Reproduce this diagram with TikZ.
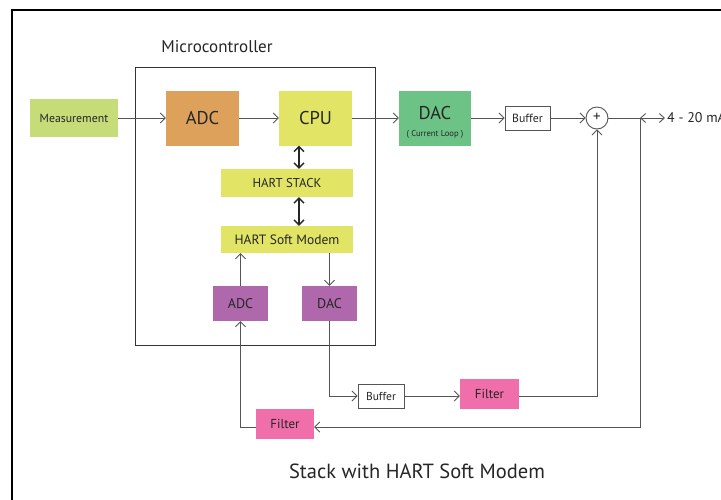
\documentclass[tikz,border=0pt]{standalone}
\usepackage{fontspec}
\setmainfont{PT Sans}
\usetikzlibrary{arrows.meta}
\definecolor{cmeas}{HTML}{C5DC78}
\definecolor{cadc}{HTML}{DEA15C}
\definecolor{ccpu}{HTML}{E2E465}
\definecolor{cdac}{HTML}{6CC385}
\definecolor{cpur}{HTML}{B068AD}
\definecolor{cpink}{HTML}{F06EAA}
\definecolor{ctext}{HTML}{262626}
\definecolor{cline}{HTML}{555555}
\newcommand{\fs}[1]{\fontsize{#1}{#1}\selectfont}
\tikzset{
  blk/.style={inner sep=0pt, text=ctext, align=center},
  wbox/.style={blk, draw=cline, line width=0.9pt, fill=white},
  conn/.style={draw=cline, line width=0.9pt, -{Straight Barb[length=5pt,width=10pt]}},
  plain/.style={draw=cline, line width=0.9pt},
  dbl/.style={draw=black!85, line width=1.3pt, {Straight Barb[length=5pt,width=10pt]}-{Straight Barb[length=5pt,width=10pt]}},
  bib/.style={draw=cline, line width=0.9pt, {Straight Barb[length=5pt,width=9pt]}-{Straight Barb[length=5pt,width=9pt]}},
}
\begin{document}
\begin{tikzpicture}[x=1pt,y=-1pt]
\clip (0,0) rectangle (721,499);
\fill[white] (0,0) rectangle (721,499);
\draw[black, line width=2pt] (12,10) rectangle (760,540);
% microcontroller box
\draw[draw=black!80, line width=0.9pt] (135,67) rectangle (375,345);
\node[blk, font=\fs{17}] (mclabel) at (217,47) {Microcontroller};
% blocks
\node[blk, fill=cmeas, minimum width=88pt, minimum height=38pt, font=\fs{11.8}] (meas) at (74,118) {Measurement};
\node[blk, fill=cadc, minimum width=73pt, minimum height=55pt, font=\fs{18.5}] (adc) at (202.5,118) {ADC};
\node[blk, fill=ccpu, minimum width=73pt, minimum height=55pt, font=\fs{18.5}] (cpu) at (315.5,118) {CPU};
\node[blk, fill=ccpu, minimum width=132pt, minimum height=28pt, font=\fs{12.8}] (stack) at (287,183) {HART STACK};
\node[blk, fill=ccpu, minimum width=132pt, minimum height=27pt, font=\fs{13.5}] (modem) at (287,239.5) {HART Soft Modem};
\node[blk, fill=cpur, minimum width=55pt, minimum height=35pt, font=\fs{14}] (adc2) at (240.5,303.5) {ADC};
\node[blk, fill=cpur, minimum width=55pt, minimum height=35pt, font=\fs{14}] (dac2) at (329.5,303.5) {DAC};
\node[blk, fill=cdac, minimum width=72pt, minimum height=55pt] (dac) at (435,118) {};
\node[blk, font=\fs{18.5}] (dact) at (435,113) {DAC};
\node[blk, font=\fs{8.6}] (dacs) at (435,134) {( Current Loop )};
\node[wbox, minimum width=45pt, minimum height=24pt, font=\fs{11.8}] (buf) at (527.5,118) {Buffer};
\node[draw=cline, line width=0.9pt, circle, minimum size=22pt, inner sep=0pt] (sum) at (597,118) {};
\node[blk, font=\fs{15}] (plus) at (597,117.5) {+};
\coordinate (jn) at (640,118);
\coordinate (out) at (665,118);
\node[blk, anchor=west, font=\fs{14}] (ma) at (667,117.5) {4 - 20 mA};
\node[wbox, minimum width=46pt, minimum height=24pt, font=\fs{11.5}] (buf2) at (381,396) {Buffer};
\node[blk, fill=cpink, minimum width=59pt, minimum height=30pt, font=\fs{13}] (filt2) at (489.5,394) {Filter};
\node[blk, fill=cpink, minimum width=58pt, minimum height=30pt, font=\fs{13}] (filt1) at (285,424) {Filter};
\node[blk, font=\fs{20.5}] (title) at (417,471) {Stack with HART Soft Modem};
\coordinate (ax) at (299,0);
% connectors
\draw[conn] (meas) -- (adc);
\draw[conn] (adc) -- (cpu);
\draw[conn] (cpu) -- (dac);
\draw[conn] (dac) -- (buf);
\draw[conn] (buf) -- (sum);
\draw[plain] (sum) -- (jn);
\draw[bib] (jn) -- (out);
\draw[dbl] (cpu.south -| ax) -- (stack.north -| ax);
\draw[dbl] (stack.south -| ax) -- (modem.north -| ax);
\draw[conn] (modem.south -| dac2) -- (dac2.north);
\draw[conn] (adc2.north) -- (modem.south -| adc2);
\draw[conn] (dac2.south) |- (buf2.west);
\draw[conn] (buf2.east) -- (filt2.west |- buf2.east);
\draw[conn] (filt2.east |- buf2.east) -| (sum.south);
\draw[conn] (jn) |- (filt1.east |- 0,427);
\draw[conn] (filt1.west |- 0,427) -| (adc2.south);
\end{tikzpicture}
\end{document}
